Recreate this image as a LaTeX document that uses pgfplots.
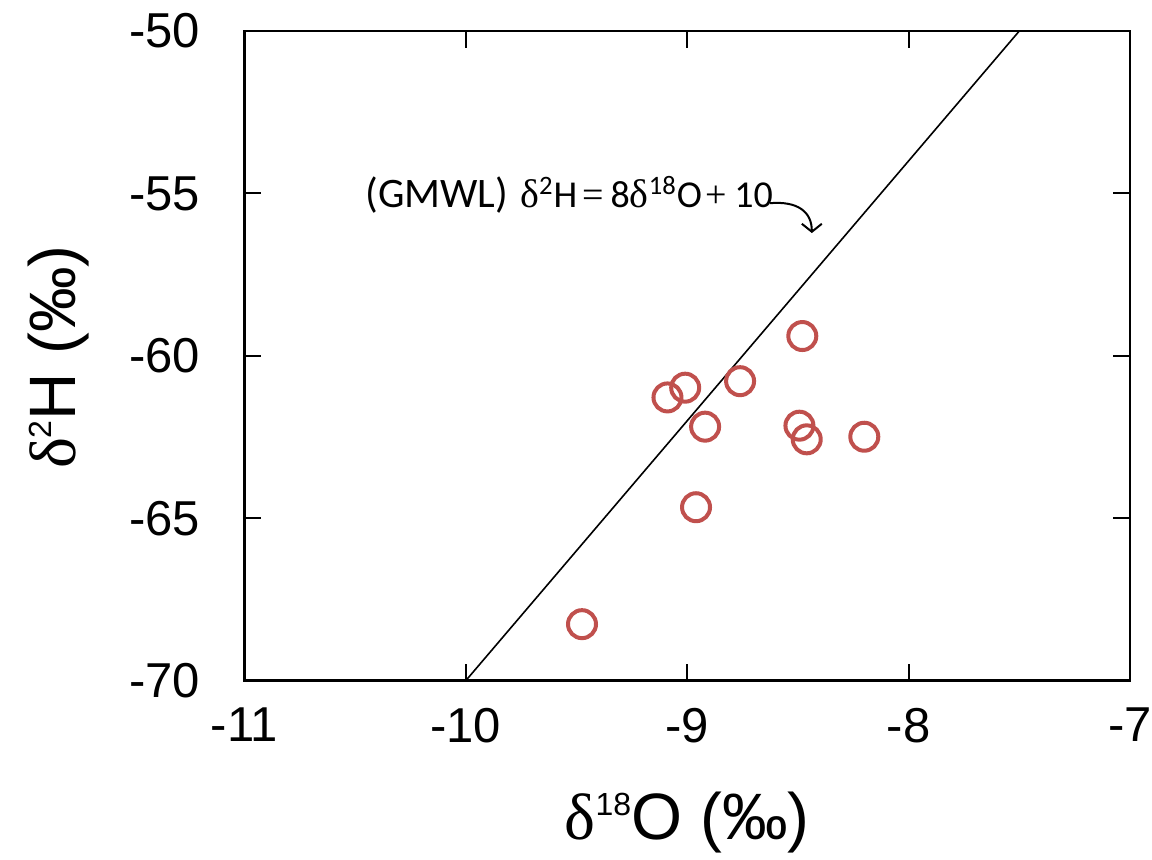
\documentclass[border=0pt]{standalone}
\usepackage{pgfplots}
\pgfplotsset{compat=1.18}
\usepackage{fontspec}
\setmainfont{Liberation Sans}
\newfontfamily\greek{Liberation Serif}
\newfontfamily\annot{Carlito}
\usetikzlibrary{arrows.meta}
\definecolor{ptred}{RGB}{192,80,77}

\begin{document}
\begin{tikzpicture}
\useasboundingbox (-122.2pt,-89.2pt) rectangle (453.9pt,340.4pt);
\begin{axis}[
  at={(0,0)}, anchor=south west,
  scale only axis, width=442.9pt, height=324.9pt,
  xmin=-11, xmax=-7, ymin=-70, ymax=-50,
  xtick={-11,-10,-9,-8,-7},
  ytick={-70,-65,-60,-55,-50},
  tick align=inside,
  major tick length=8.5pt,
  every tick/.style={black, line width=1pt},
  axis line style={line width=1.3pt},
  /pgf/number format/assume math mode=true,
  tick label style={font=\fontsize{24.5}{29}\selectfont, inner sep=0pt},
  xticklabel style={yshift=-13.5pt},
  yticklabel style={xshift=-22pt},
  xlabel={{\greek δ}\raisebox{12pt}{\fontsize{16}{16}\selectfont 18}O (‰)},
  ylabel={{\greek δ}\raisebox{12pt}{\fontsize{16}{16}\selectfont 2}H (‰)},
  label style={font=\fontsize{32.8}{38}\selectfont, inner sep=0pt},
  xlabel style={at={(axis description cs:0.5,-0.2452)}, anchor=base},
  ylabel style={at={(axis description cs:-0.1911,0.498)}, anchor=base},
]
% GMWL: d2H = 8 d18O + 10
\addplot[black, line width=0.8pt] coordinates {(-10,-70) (-7.5,-50)};

\addplot[only marks, mark=o, mark size=7pt,
  mark options={draw=ptred, line width=2pt}] coordinates {
  (-8.480,-59.39)
  (-8.761,-60.78)
  (-9.009,-60.98)
  (-9.089,-61.28)
  (-8.919,-62.18)
  (-8.493,-62.15)
  (-8.460,-62.57)
  (-8.200,-62.49)
  (-8.960,-64.66)
  (-9.475,-68.26)
};

\node[anchor=base west, inner sep=0pt, font=\annot\fontsize{21}{24}\selectfont]
  at (axis cs:-10.455,-55.42)
  {(GMWL)\hspace{6pt}{\fontsize{19}{24}\selectfont{\greek\fontsize{20}{24}\selectfont δ}\textsuperscript{2}H\hspace{2.5pt}{\greek =}\hspace{3.5pt}8{\greek\fontsize{20}{24}\selectfont δ}\textsuperscript{18}O\hspace{2pt}{\greek +}\hspace{3.5pt}10}};
\draw[line width=1pt, -{Straight Barb[length=4pt,width=10pt]}]
  (axis cs:-8.626,-55.30) .. controls (axis cs:-8.500,-55.23) and (axis cs:-8.437,-55.57) .. (axis cs:-8.437,-56.22);
\end{axis}
\end{tikzpicture}
\end{document}
